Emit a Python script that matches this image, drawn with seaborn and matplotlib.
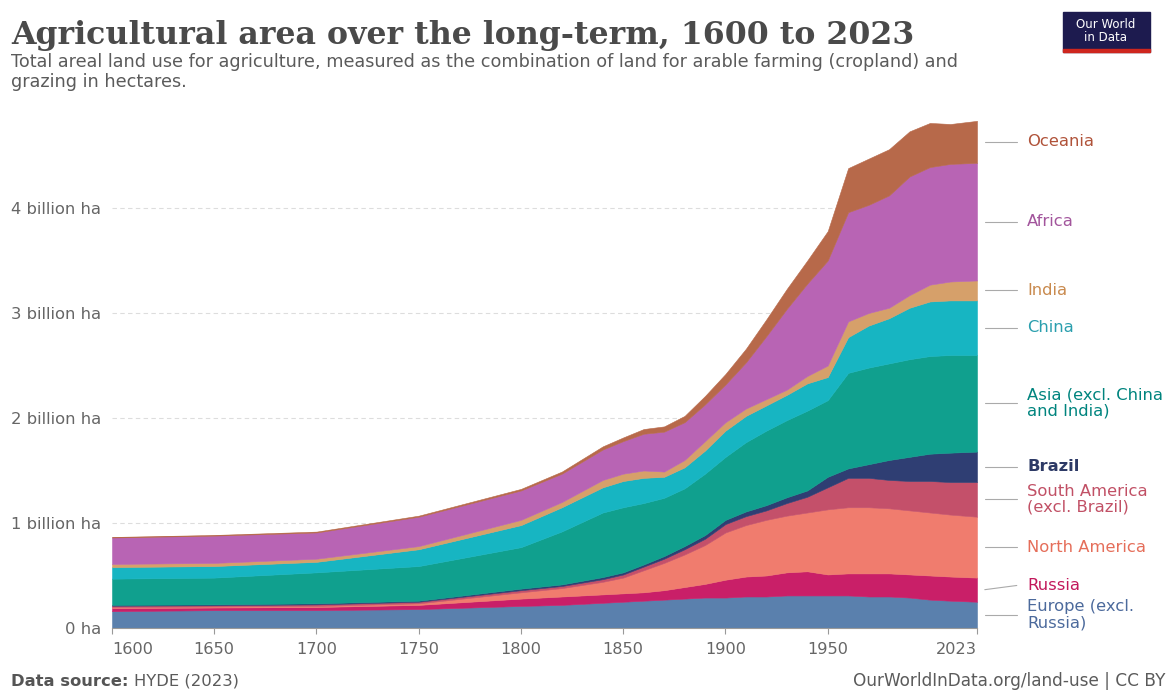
import numpy as np
import matplotlib
matplotlib.use("Agg")
import matplotlib.pyplot as plt
import matplotlib.transforms as mtransforms
from matplotlib.patches import Rectangle
import seaborn as sns

# ── Data (billion hectares) ────────────────────────────────────────
years = [1600, 1650, 1700, 1750, 1800, 1820, 1840, 1850, 1860, 1870, 1880, 1890,
         1900, 1910, 1920, 1930, 1940, 1950, 1960, 1970, 1980, 1990, 2000, 2010, 2023]

europe = [0.16, 0.17, 0.17, 0.18, 0.21, 0.22, 0.24, 0.25, 0.26, 0.27, 0.28, 0.29,
          0.29, 0.30, 0.30, 0.31, 0.31, 0.31, 0.31, 0.30, 0.30, 0.29, 0.27, 0.26, 0.25]
russia = [0.03, 0.025, 0.03, 0.04, 0.07, 0.08, 0.08, 0.08, 0.08, 0.09, 0.11, 0.13,
          0.17, 0.19, 0.20, 0.22, 0.23, 0.20, 0.21, 0.22, 0.22, 0.22, 0.23, 0.23, 0.23]
north_america = [0.01, 0.01, 0.01, 0.015, 0.06, 0.08, 0.12, 0.15, 0.21, 0.26, 0.31, 0.37,
                 0.45, 0.49, 0.53, 0.54, 0.56, 0.62, 0.63, 0.63, 0.62, 0.61, 0.60, 0.59, 0.58]
south_america = [0.012, 0.012, 0.015, 0.015, 0.02, 0.02, 0.025, 0.03, 0.035, 0.04, 0.05, 0.06,
                 0.08, 0.085, 0.09, 0.12, 0.15, 0.21, 0.28, 0.28, 0.27, 0.28, 0.30, 0.31, 0.33]
brazil = [0.008, 0.008, 0.01, 0.01, 0.015, 0.015, 0.02, 0.02, 0.02, 0.025, 0.03, 0.035,
          0.04, 0.045, 0.05, 0.055, 0.06, 0.10, 0.09, 0.13, 0.19, 0.23, 0.26, 0.28, 0.29]
asia = [0.25, 0.255, 0.295, 0.33, 0.395, 0.505, 0.615, 0.62, 0.585, 0.555, 0.55, 0.585,
        0.60, 0.66, 0.71, 0.735, 0.76, 0.73, 0.91, 0.92, 0.92, 0.93, 0.93, 0.93, 0.92]
china = [0.11, 0.11, 0.10, 0.16, 0.21, 0.23, 0.24, 0.25, 0.24, 0.20, 0.20, 0.22,
         0.25, 0.25, 0.24, 0.24, 0.26, 0.22, 0.34, 0.40, 0.43, 0.49, 0.52, 0.52, 0.52]
india = [0.03, 0.03, 0.03, 0.03, 0.05, 0.05, 0.07, 0.07, 0.07, 0.05, 0.07, 0.09,
         0.08, 0.07, 0.06, 0.05, 0.07, 0.11, 0.15, 0.12, 0.10, 0.12, 0.16, 0.18, 0.19]
africa = [0.252, 0.26, 0.25, 0.28, 0.28, 0.27, 0.29, 0.31, 0.35, 0.38, 0.36, 0.35,
          0.36, 0.44, 0.60, 0.77, 0.88, 1.00, 1.04, 1.03, 1.07, 1.13, 1.12, 1.12, 1.12]
oceania = [0.005, 0.006, 0.008, 0.01, 0.015, 0.02, 0.03, 0.035, 0.045, 0.05, 0.06, 0.08,
           0.10, 0.13, 0.16, 0.19, 0.22, 0.28, 0.42, 0.44, 0.44, 0.43, 0.42, 0.38, 0.40]

series = [europe, russia, north_america, south_america, brazil, asia, china, india, africa, oceania]
labels = ["Europe (excl.\nRussia)", "Russia", "North America", "South America\n(excl. Brazil)",
          "Brazil", "Asia (excl. China\nand India)", "China", "India", "Africa", "Oceania"]

x_ticks = [1600, 1650, 1700, 1750, 1800, 1850, 1900, 1950, 2023]
y_ticks = [0, 1, 2, 3, 4]
y_ticklabels = ["0 ha", "1 billion ha", "2 billion ha", "3 billion ha", "4 billion ha"]

fill_colors = ["#5a80ad", "#c91f68", "#f07c6e", "#c4506a", "#2f3e73",
               "#10a08e", "#17b5c2", "#d6a06a", "#b864b4", "#b7694a"]
text_colors = ["#4c6a9c", "#c2185b", "#e56e5a", "#c15065", "#2d3a66",
               "#00847e", "#2a9fae", "#c98a4e", "#a2559c", "#b0533a"]

# ── Style ──────────────────────────────────────────────────────────
sns.set_theme(style="white")
plt.rcParams["font.family"] = ["DejaVu Sans"]
grey = "#666666"

fig = plt.figure(figsize=(11.69, 6.91), dpi=100)
ax = fig.add_axes([112 / 1169, 1 - 628 / 691, 865 / 1169, 520 / 691])

ax.stackplot(years, *series, colors=fill_colors, edgecolor="face", linewidth=0.4)

ax.set_xlim(1600, 2023)
ax.set_ylim(0, 520 / 105)
ax.set_yticks(y_ticks)
ax.set_yticklabels(y_ticklabels, color=grey, fontsize=11.8)
ax.set_xticks(x_ticks)
ax.set_xticklabels([str(t) for t in x_ticks], color=grey, fontsize=11.6)
xt = ax.get_xticklabels()
xt[0].set_horizontalalignment("left")
xt[-1].set_horizontalalignment("right")
ax.tick_params(axis="y", length=0, pad=8)
ax.tick_params(axis="x", length=4, color="#999999", width=0.8, pad=6, bottom=True)
ax.yaxis.grid(True, color="#dddddd", linestyle=(0, (4, 3)), linewidth=0.8)
ax.xaxis.grid(False)
ax.set_axisbelow(True)
sns.despine(ax=ax, left=True)
ax.spines["bottom"].set_color("#999999")
ax.spines["bottom"].set_linewidth(0.8)

# ── End labels ─────────────────────────────────────────────────────
ends = np.array([s[-1] for s in series])
tops = np.cumsum(ends)
mids = tops - ends / 2
n_lines = np.array([lab.count("\n") + 1 for lab in labels])
half = n_lines * 0.08 + 0.02
lab_y = mids.copy()
for i in range(1, len(lab_y)):
    need = half[i] + half[i - 1]
    if lab_y[i] - lab_y[i - 1] < need:
        lab_y[i] = lab_y[i - 1] + need

trans = mtransforms.blended_transform_factory(ax.transAxes, ax.transData)
for i, lab in enumerate(labels):
    ax.plot([1.009, 1.046], [mids[i], lab_y[i]], transform=trans, color="#aaaaaa",
            lw=0.8, clip_on=False)
    ax.text(1.058, lab_y[i], lab, transform=trans, color=text_colors[i], fontsize=11.8,
            va="center", ha="left", linespacing=1.1,
            fontweight="bold" if lab == "Brazil" else "normal")

# ── Title, subtitle, footer ───────────────────────────────────────
fig.text(11 / 1169, 1 - 44 / 691, "Agricultural area over the long-term, 1600 to 2023",
         family="DejaVu Serif", fontweight="bold", fontsize=22.8, color="#4a4a4a", va="baseline")
fig.text(11 / 1169, 1 - 67 / 691,
         "Total areal land use for agriculture, measured as the combination of land for arable farming (cropland) and",
         fontsize=12.7, color="#5b5b5b", va="baseline")
fig.text(11 / 1169, 1 - 87 / 691, "grazing in hectares.", fontsize=12.7, color="#5b5b5b", va="baseline")

src = fig.text(11 / 1169, 1 - 686 / 691, "Data source: ", fontsize=11.8, color="#555555",
               fontweight="bold", va="baseline")
renderer = fig.canvas.get_renderer()
bb = src.get_window_extent(renderer=renderer)
fig.text(bb.x1 / fig.bbox.width, 1 - 686 / 691, "HYDE (2023)", fontsize=11.8,
         color="#5b5b5b", va="baseline")
fig.text(1165 / 1169, 1 - 686 / 691, "OurWorldInData.org/land-use | CC BY", fontsize=12.2,
         color="#5b5b5b", va="baseline", ha="right")

# logo
fig.patches.append(Rectangle((1063 / 1169, 1 - 52 / 691), 87 / 1169, 40 / 691,
                             transform=fig.transFigure, color="#1d1b4f", zorder=5))
fig.patches.append(Rectangle((1063 / 1169, 1 - 52 / 691), 87 / 1169, 3 / 691,
                             transform=fig.transFigure, color="#ce261e", zorder=6))
fig.text(1106 / 1169, 1 - 31 / 691, "Our World\nin Data", fontsize=8.5, color="white",
         ha="center", va="center", linespacing=1.0, zorder=7)

fig.savefig("out.png", dpi=100)
